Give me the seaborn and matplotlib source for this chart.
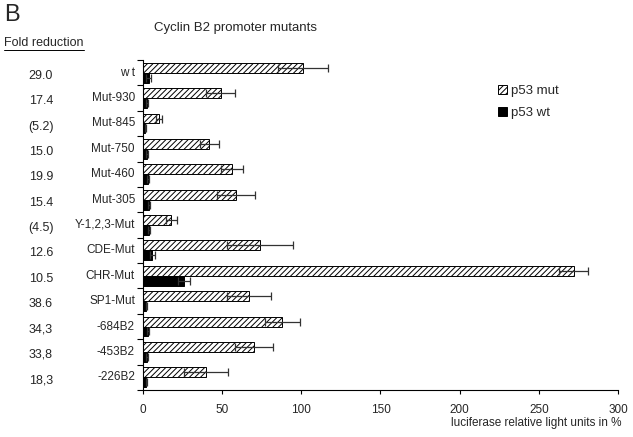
import matplotlib

matplotlib.use("Agg")
import matplotlib.pyplot as plt
import numpy as np
import pandas as pd
import seaborn as sns
from matplotlib.lines import Line2D

constructs = ["w t", "Mut-930", "Mut-845", "Mut-750", "Mut-460", "Mut-305",
              "Y-1,2,3-Mut", "CDE-Mut", "CHR-Mut", "SP1-Mut", "-684B2", "-453B2", "-226B2"]
fold_reduction = ["29.0", "17.4", "(5.2)", "15.0", "19.9", "15.4", "(4.5)",
                  "12.6", "10.5", "38.6", "34,3", "33,8", "18,3"]
p53_mut = [101, 49, 10, 42, 56, 59, 18, 74, 272, 67, 88, 70, 40]
p53_mut_err = [16, 9, 1.8, 6, 7, 12, 3.5, 21, 9, 14, 11, 12, 14]
p53_wt = [3.5, 2.5, 1.5, 2.5, 3, 4, 4, 6, 26, 2, 3, 2.5, 2]
p53_wt_err = [1.5, 0.5, 0.4, 0.5, 0.6, 0.6, 0.6, 1.5, 4, 0.4, 0.5, 0.5, 0.4]

sns.set_theme(style="white")
plt.rcParams["font.family"] = ["Liberation Sans", "DejaVu Sans"]
plt.rcParams["hatch.linewidth"] = 0.7

df = pd.DataFrame({
    "construct": constructs * 2,
    "value": p53_mut + p53_wt,
    "group": ["p53 mut"] * len(constructs) + ["p53 wt"] * len(constructs),
})

fig = plt.figure(figsize=(6.33, 4.37), dpi=100)
ax = fig.add_axes([0.2259, 0.1076, 0.7504, 0.7551])
sns.barplot(data=df, y="construct", x="value", hue="group", orient="h",
            order=constructs, hue_order=["p53 mut", "p53 wt"],
            palette=["white", "black"], errorbar=None, width=0.78,
            edgecolor="black", linewidth=0.7, legend=False, ax=ax)

for bar in ax.containers[0]:
    bar.set_hatch("//////")

for cont, vals, errs in [(ax.containers[0], p53_mut, p53_mut_err),
                         (ax.containers[1], p53_wt, p53_wt_err)]:
    ys = [b.get_y() + b.get_height() / 2 for b in cont]
    ax.errorbar(vals, ys, xerr=errs, fmt="none", ecolor="#333333",
                elinewidth=0.9, capsize=3, capthick=0.9)

ax.set_xlim(0, 300)
ax.set_ylim(len(constructs) - 0.5, -0.5)
ax.set_xticks(range(0, 301, 50))
ax.set_yticks(np.arange(-0.5, len(constructs), 1))
ax.set_yticklabels([])
ax.tick_params(axis="y", direction="out", length=4, width=0.8, color="black", left=True)
ax.tick_params(axis="x", direction="out", length=3, width=0.8, color="black",
               bottom=True, labelsize=8.5, pad=7)
for i, name in enumerate(constructs):
    ax.text(-0.017, i, name, transform=ax.get_yaxis_transform(), ha="right",
            va="center", fontsize=8.5)
    ax.text(-0.215, i + 0.12, fold_reduction[i], transform=ax.get_yaxis_transform(),
            ha="center", va="center", fontsize=9)

ax.set_xlabel("")
ax.set_ylabel("")
sns.despine(ax=ax, top=True, right=True)
for s in ["left", "bottom"]:
    ax.spines[s].set_color("black")
    ax.spines[s].set_linewidth(0.8)

fig.text(0.982, 0.032, "luciferase relative light units in %", ha="right",
         va="center", fontsize=8.5)
fig.text(0.372, 0.935, "Cyclin B2 promoter mutants", ha="center", va="center", fontsize=9.5)
fig.text(0.006, 0.966, "B", ha="left", va="center", fontsize=17)
fig.text(0.006, 0.902, "Fold reduction", ha="left", va="center", fontsize=9)
fig.add_artist(Line2D([0.006, 0.132], [0.886, 0.886], transform=fig.transFigure,
                      color="black", lw=0.7))

ax.legend(handles=[ax.containers[0][0], ax.containers[1][0]],
          labels=["p53 mut", "p53 wt"], loc="upper left",
          bbox_to_anchor=(0.722, 0.96), frameon=False, fontsize=9.5,
          handlelength=0.7, handleheight=0.7, handletextpad=0.3,
          labelspacing=0.7)

fig.savefig("out.png", dpi=100)
